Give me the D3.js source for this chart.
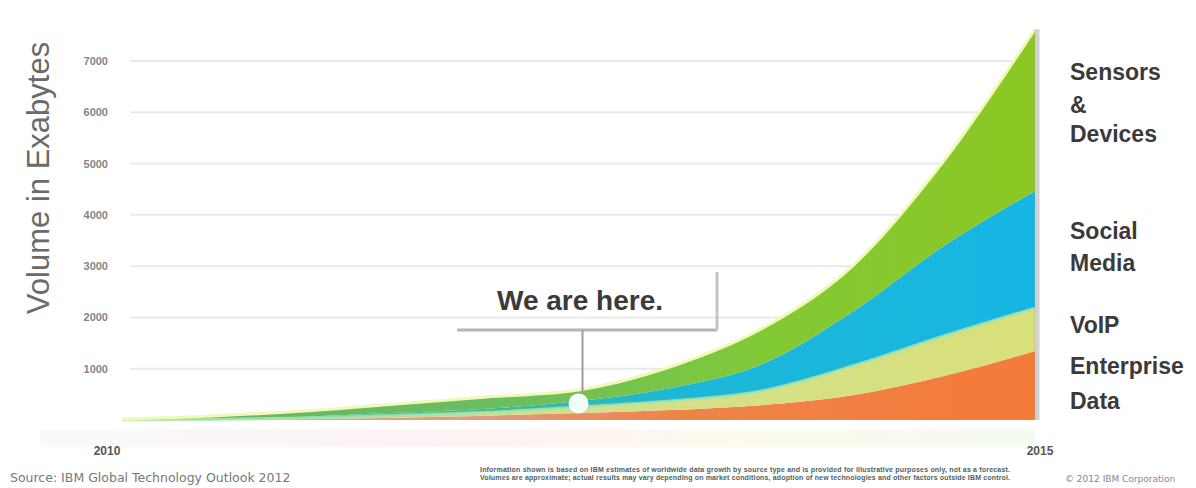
<!DOCTYPE html>
<html>
<head>
<meta charset="utf-8">
<script src="https://cdn.jsdelivr.net/npm/d3@7"></script>
<style>
  body { margin: 0; background: #fff; }
  text { font-family: "Liberation Sans", Arial, sans-serif; }
</style>
</head>
<body>
<div class="grafico"></div>
<script>
// Dati (exabytes, valori per semestre)
var anni = [2010, 2010.5, 2011, 2011.5, 2012, 2012.5, 2013, 2013.5, 2014, 2014.5, 2015];
var enterprise = [1, 5, 20, 45, 85, 136, 195, 290, 485, 860, 1345];
var voip = [2, 7, 20, 45, 65, 117, 175, 275, 567, 777, 838];
var social = [3, 10, 25, 50, 70, 117, 250, 515, 1053, 1754, 2280];
var sensori = [14, 58, 110, 172, 228, 215, 413, 694, 896, 1657, 3157];

var serie = ["enterprise", "voip", "social", "sensori"];
var etichette = {
    sensori: ["Sensors", "&", "Devices"],
    social: ["Social", "Media"],
    voip: ["VoIP"],
    enterprise: ["Enterprise", "Data"]
};
var tickY = [1000, 2000, 3000, 4000, 5000, 6000, 7000];
var tickX = [2010, 2015];
var annoQui = 2012.5;

var w = 1196,
    h = 488;

var svg = d3.select(".grafico")
    .append("svg")
    .attr("width", w)
    .attr("height", h);

var x = d3.scaleLinear().domain([2010, 2015]).range([122, 1035]);
var y = d3.scaleLinear().domain([0, 7000]).range([420, 61]);

// tabella per lo stack
var tabella = anni.map(function (a, i) {
    return { anno: a, enterprise: enterprise[i], voip: voip[i], social: social[i], sensori: sensori[i] };
});
var strati = d3.stack().keys(serie)(tabella);

// gradienti orizzontali (parte storica piu' spenta)
var defs = svg.append("defs");
var colori = {
    sensori: [[0, "#63b46f"], [0.45, "#6cbf5c"], [0.7, "#82c937"], [1, "#8cc824"]],
    social: [[0, "#5ab68a"], [0.45, "#3cb7a2"], [0.6, "#1db8d6"], [1, "#17b5e3"]],
    voip: [[0, "#bcc6a6"], [0.5, "#d4df8c"], [1, "#d8e07a"]],
    enterprise: [[0, "#c9b3a8"], [0.4, "#e09c7c"], [0.6, "#ee8449"], [1, "#f47a3a"]]
};
serie.forEach(function (s) {
    var g = defs.append("linearGradient")
        .attr("id", "grad_" + s)
        .attr("gradientUnits", "userSpaceOnUse")
        .attr("x1", x(2010)).attr("x2", x(2015))
        .attr("y1", 0).attr("y2", 0);
    colori[s].forEach(function (c) {
        g.append("stop").attr("offset", c[0]).attr("stop-color", c[1]);
    });
});

var riflesso = defs.append("linearGradient").attr("id", "riflesso");
riflesso.append("stop").attr("offset", 0).attr("stop-color", "#fafafa");
riflesso.append("stop").attr("offset", 0.4).attr("stop-color", "#fdf3f4");
riflesso.append("stop").attr("offset", 0.7).attr("stop-color", "#fdfaee");
riflesso.append("stop").attr("offset", 1).attr("stop-color", "#f4fbf0");

// riflesso sotto il grafico
svg.append("rect")
    .attr("x", 40).attr("y", 429)
    .attr("width", x(2015) - 40).attr("height", 18)
    .attr("fill", "url(#riflesso)");

// griglia
svg.selectAll(".griglia")
    .data(tickY)
    .enter()
    .append("line")
    .attr("class", "griglia")
    .attr("x1", 130).attr("x2", x(2015))
    .attr("y1", function (d) { return y(d); })
    .attr("y2", function (d) { return y(d); })
    .attr("stroke", "#e9e9e9")
    .attr("stroke-width", 2);

svg.selectAll(".tick-y")
    .data(tickY)
    .enter()
    .append("text")
    .attr("class", "tick-y")
    .attr("x", 108)
    .attr("y", function (d) { return y(d) + 4; })
    .attr("text-anchor", "end")
    .attr("font-size", 11)
    .attr("font-weight", "bold")
    .attr("fill", "#858585")
    .text(function (d) { return d; });

// aree impilate
var area = d3.area()
    .x(function (d) { return x(d.data.anno); })
    .y0(function (d) { return y(d[0]); })
    .y1(function (d) { return y(d[1]); })
    .curve(d3.curveMonotoneX);

svg.selectAll(".strato")
    .data(strati)
    .enter()
    .append("path")
    .attr("class", "strato")
    .attr("d", area)
    .attr("fill", function (d) { return "url(#grad_" + d.key + ")"; });

// bordo chiaro sopra voip e sopra il totale
var linea = d3.line()
    .x(function (d) { return x(d.data.anno); })
    .y(function (d) { return y(d[1]); })
    .curve(d3.curveMonotoneX);

svg.append("path")
    .attr("d", linea(strati[1]))
    .attr("fill", "none")
    .attr("stroke", "#a8e6a8")
    .attr("stroke-width", 3)
    .attr("opacity", 0.8);

svg.append("path")
    .attr("d", linea(strati[3]))
    .attr("fill", "none")
    .attr("stroke", "#f1f8b8")
    .attr("stroke-width", 3);

// bordo destro ombreggiato
svg.append("line")
    .attr("x1", x(2015) + 2).attr("x2", x(2015) + 2)
    .attr("y1", y(sensori[10] + social[10] + voip[10] + enterprise[10]))
    .attr("y2", y(0))
    .attr("stroke", "#9a9a9a")
    .attr("stroke-width", 5)
    .attr("opacity", 0.45);

// etichette asse x
svg.selectAll(".tick-x")
    .data(tickX)
    .enter()
    .append("text")
    .attr("class", "tick-x")
    .attr("x", function (d) { return d == 2010 ? x(d) - 15 : x(d) + 5; })
    .attr("y", 455)
    .attr("text-anchor", "middle")
    .attr("font-size", 12)
    .attr("font-weight", "bold")
    .attr("fill", "#555")
    .text(function (d) { return d; });

// titolo asse y
svg.append("text")
    .attr("transform", "translate(49,178) rotate(-90)")
    .attr("text-anchor", "middle")
    .attr("font-size", 31)
    .attr("fill", "#6a6a6a")
    .text("Volume in Exabytes");

// etichette serie a destra
var posEtichette = {
    sensori: [80, 113, 142],
    social: [239, 271],
    voip: [333],
    enterprise: [374, 409]
};
serie.forEach(function (s) {
    etichette[s].forEach(function (riga, j) {
        svg.append("text")
            .attr("x", 1070)
            .attr("y", posEtichette[s][j])
            .attr("font-size", 23)
            .attr("font-weight", "bold")
            .attr("fill", "#3a3a3a")
            .text(riga);
    });
});

// "We are here."
var iQui = anni.indexOf(annoQui);
var yQui = y(enterprise[iQui] + voip[iQui] + social[iQui] * 0.6);
svg.append("line")
    .attr("x1", 457).attr("x2", 717)
    .attr("y1", 330).attr("y2", 330)
    .attr("stroke", "#b5b5b5").attr("stroke-width", 3);
svg.append("line")
    .attr("x1", 717).attr("x2", 717)
    .attr("y1", 272).attr("y2", 330)
    .attr("stroke", "#c5c5c5").attr("stroke-width", 3);
svg.append("text")
    .attr("x", 580)
    .attr("y", 310)
    .attr("text-anchor", "middle")
    .attr("font-size", 28)
    .attr("font-weight", "bold")
    .attr("fill", "#3a3a3a")
    .text("We are here.");
svg.append("line")
    .attr("x1", x(annoQui) + 4).attr("x2", x(annoQui) + 4)
    .attr("y1", 330).attr("y2", yQui - 6)
    .attr("stroke", "#9c9c9c").attr("stroke-width", 2);
svg.append("circle")
    .attr("cx", x(annoQui))
    .attr("cy", yQui)
    .attr("r", 9)
    .attr("fill", "#effff6")
    .attr("stroke", "#ffffff")
    .attr("stroke-width", 2);

// note a pie' di pagina
svg.append("text")
    .attr("x", 10).attr("y", 482)
    .style("font-family", "'DejaVu Sans', sans-serif")
    .attr("font-size", 12.5)
    .attr("fill", "#777")
    .text("Source:   IBM Global Technology Outlook 2012");

svg.append("text")
    .attr("x", 480).attr("y", 472)
    .attr("font-size", 7)
    .attr("font-weight", "bold")
    .attr("fill", "#4f5f5c")
    .attr("textLength", 530)
    .text("Information shown is based on IBM estimates of worldwide data growth by source type and is provided for illustrative purposes only, not as a forecast.");
svg.append("text")
    .attr("x", 480).attr("y", 480)
    .attr("font-size", 7)
    .attr("font-weight", "bold")
    .attr("fill", "#4f5f5c")
    .attr("textLength", 530)
    .text("Volumes are approximate; actual results may vary depending on market conditions, adoption of new technologies and other factors outside IBM control.");

svg.append("text")
    .attr("x", 1065).attr("y", 482)
    .style("font-family", "'DejaVu Sans', sans-serif")
    .attr("font-size", 9)
    .attr("fill", "#888")
    .text("© 2012 IBM Corporation");
</script>
</body>
</html>
